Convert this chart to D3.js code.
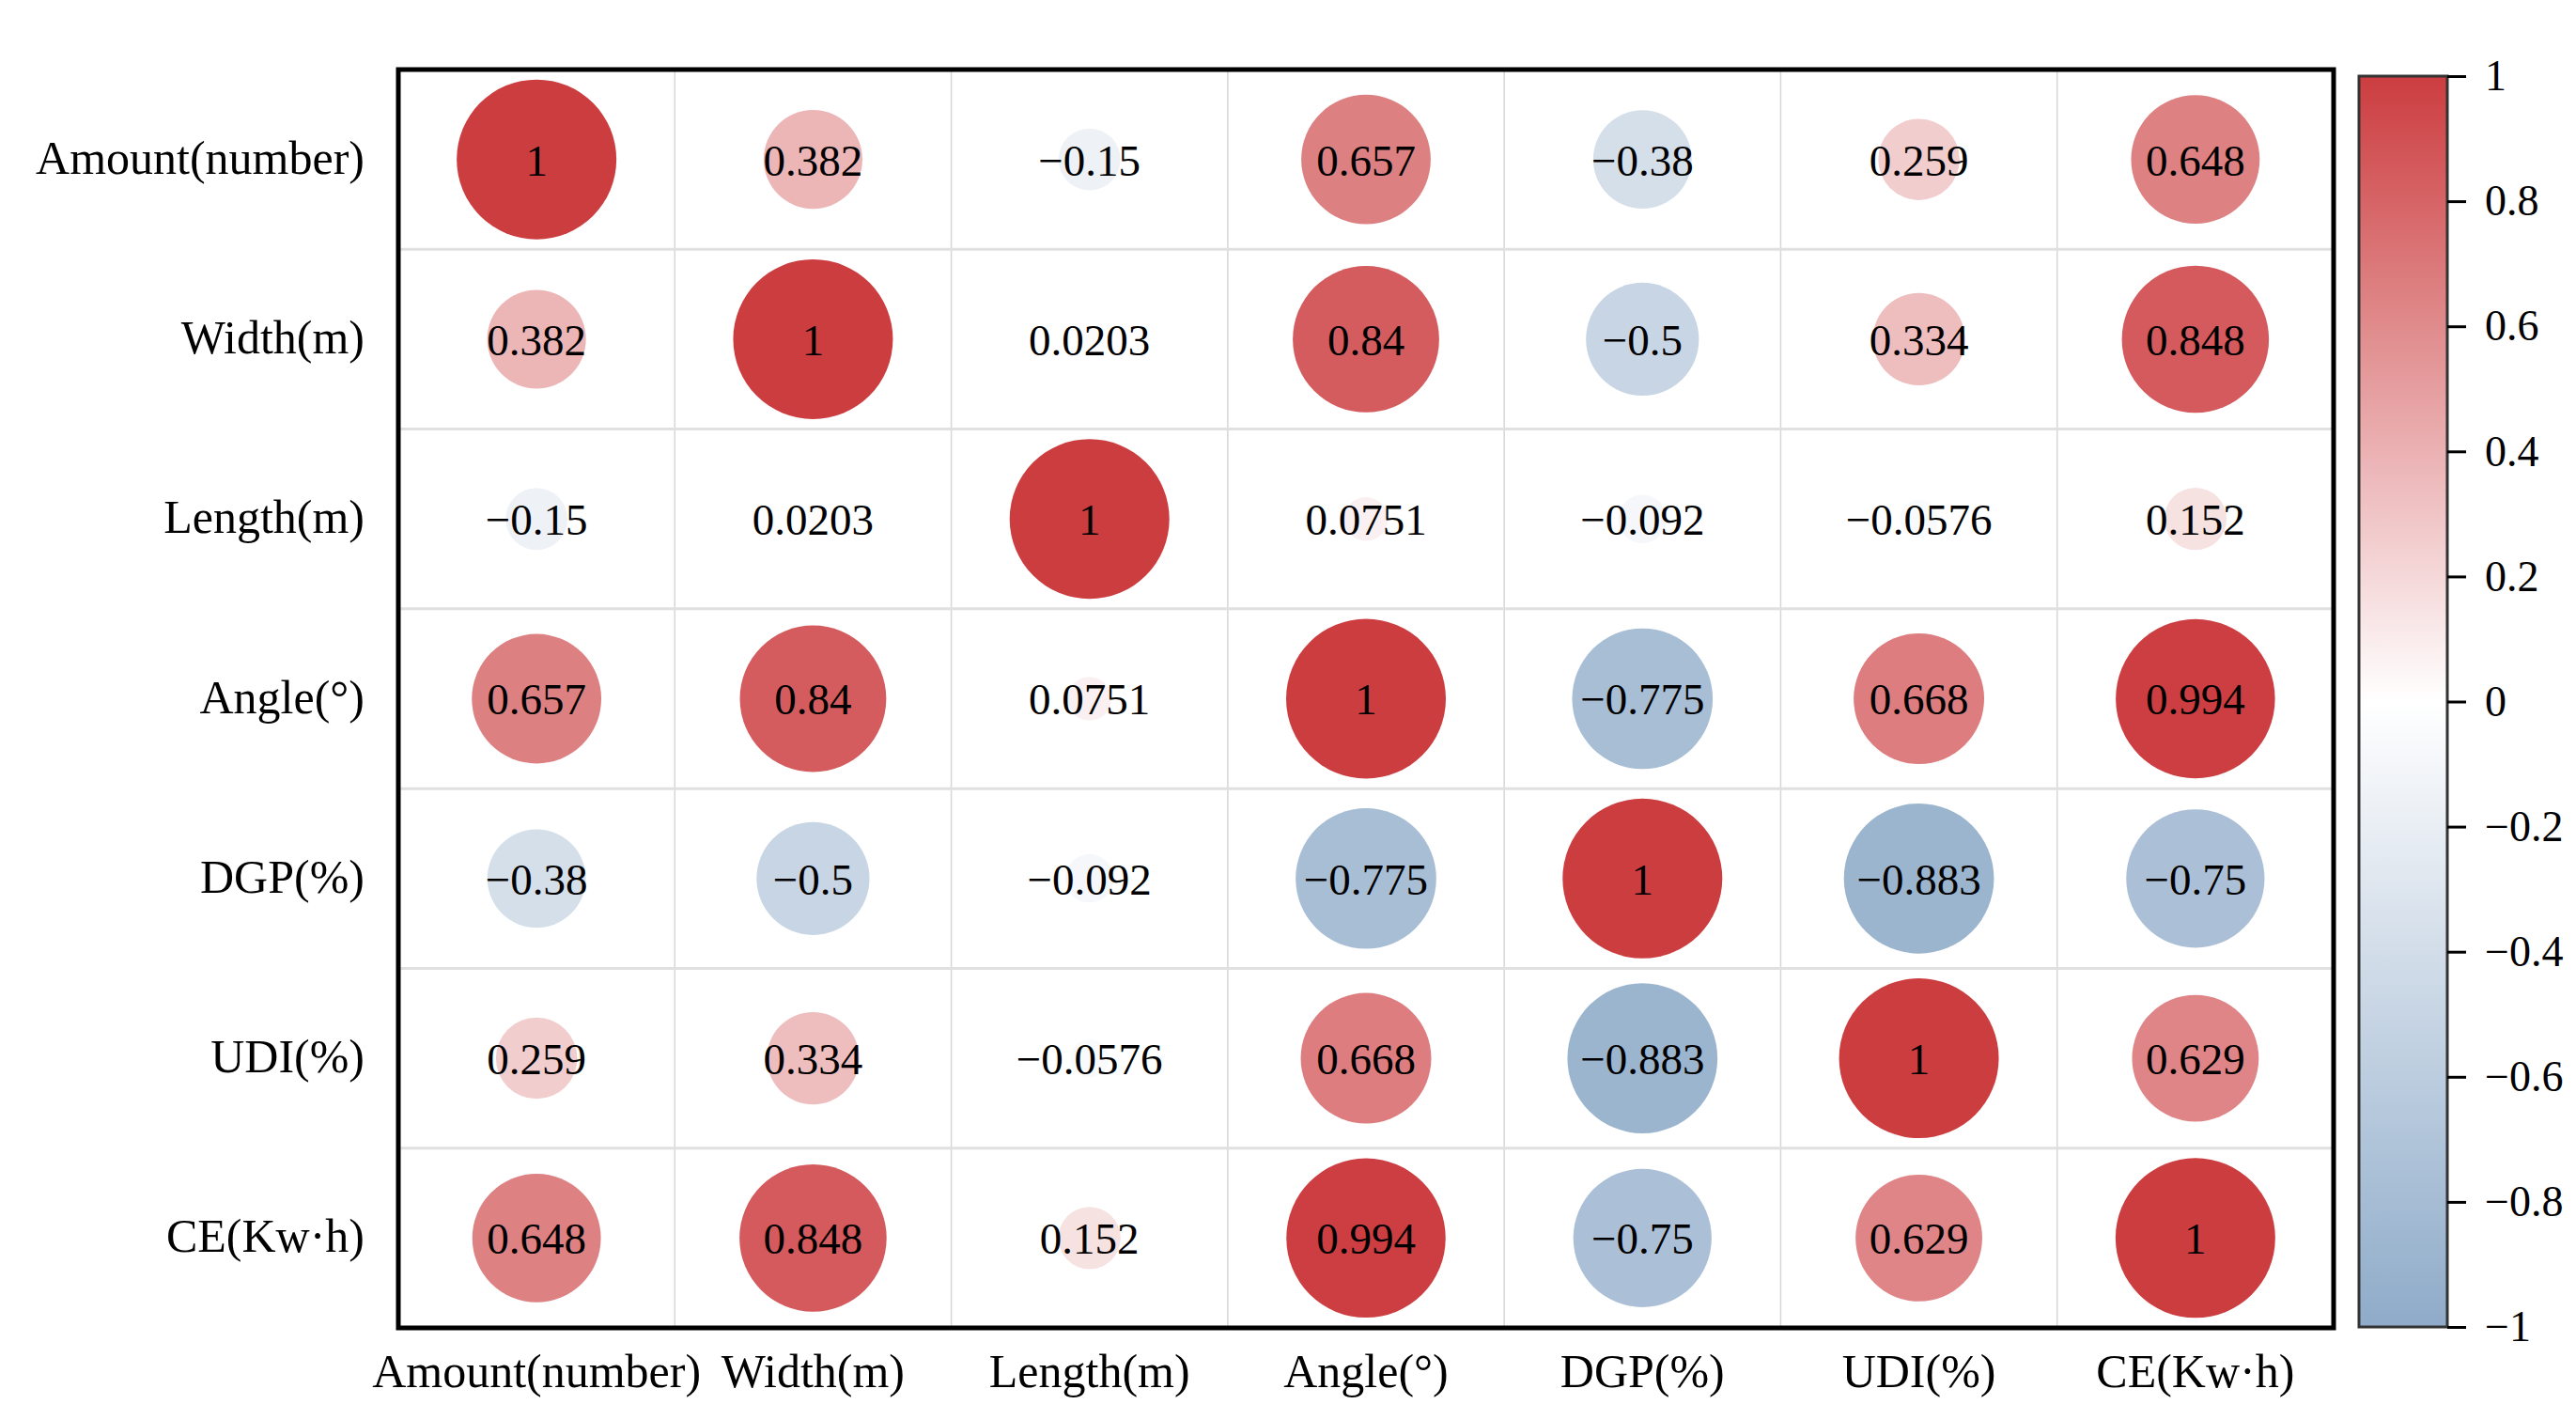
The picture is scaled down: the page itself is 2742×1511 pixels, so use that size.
<!DOCTYPE html>
<html>
<head>
<meta charset="utf-8">
<script src="https://cdn.jsdelivr.net/npm/d3@7"></script>
<style>
body { margin: 0; background: #ffffff; }
text { font-family: "Liberation Serif", "DejaVu Serif", serif; fill: #000; }
</style>
</head>
<body>
<div id="chart-id"></div>
<script>
// variable names, same order on both axes
var labels = ["Amount(number)", "Width(m)", "Length(m)", "Angle(°)", "DGP(%)", "UDI(%)", "CE(Kw·h)"];

// correlation rows, one per variable
var amountRow = [1, 0.382, -0.15, 0.657, -0.38, 0.259, 0.648];
var widthRow  = [0.382, 1, 0.0203, 0.84, -0.5, 0.334, 0.848];
var lengthRow = [-0.15, 0.0203, 1, 0.0751, -0.092, -0.0576, 0.152];
var angleRow  = [0.657, 0.84, 0.0751, 1, -0.775, 0.668, 0.994];
var dgpRow    = [-0.38, -0.5, -0.092, -0.775, 1, -0.883, -0.75];
var udiRow    = [0.259, 0.334, -0.0576, 0.668, -0.883, 1, 0.629];
var ceRow     = [0.648, 0.848, 0.152, 0.994, -0.75, 0.629, 1];

var colorbarTicks = [-1, -0.8, -0.6, -0.4, -0.2, 0, 0.2, 0.4, 0.6, 0.8, 1];

var rows = [amountRow, widthRow, lengthRow, angleRow, dgpRow, udiRow, ceRow];

function makeChart(divId){
    var width = 2742,
        height = 1511;
    var plot = {left: 424, right: 2484, top: 74, bottom: 1413};

    // flatten the rows into cells
    var cells = [];
    rows.forEach(function (row, i){
        row.forEach(function (v, j){
            cells.push({row: labels[i], col: labels[j], value: v});
        });
    });

    var x = d3.scaleBand()
        .domain(labels)
        .range([plot.left, plot.right]);

    var y = d3.scaleBand()
        .domain(labels)
        .range([plot.top, plot.bottom]);

    // area of the dot goes with |r|
    var r = d3.scaleSqrt()
        .domain([0, 1])
        .range([0, 85]);

    var color = d3.scaleLinear()
        .domain([-1, 0, 1])
        .range(["#8fabc9", "#ffffff", "#cc3d40"]);

    function fmt(v){
        return String(v).replace("-", "\u2212");
    }

    var svg = d3.select(divId)
        .append("svg")
        .attr("width", width)
        .attr("height", height);

    // grid lines between the cells
    svg.selectAll(".vgrid")
        .data(labels.slice(1))
        .enter()
        .append("line")
        .attr("x1", function (d){ return x(d); })
        .attr("x2", function (d){ return x(d); })
        .attr("y1", plot.top)
        .attr("y2", plot.bottom)
        .attr("stroke", "#d6d6d6")
        .attr("stroke-width", 1.5);

    svg.selectAll(".hgrid")
        .data(labels.slice(1))
        .enter()
        .append("line")
        .attr("x1", plot.left)
        .attr("x2", plot.right)
        .attr("y1", function (d){ return y(d); })
        .attr("y2", function (d){ return y(d); })
        .attr("stroke", "#e0e0e0")
        .attr("stroke-width", 3);

    svg.selectAll(".dot")
        .data(cells)
        .enter()
        .append("circle")
        .attr("cx", function (d){ return x(d.col) + x.bandwidth() / 2; })
        .attr("cy", function (d){ return y(d.row) + y.bandwidth() / 2; })
        .attr("r", function (d){ return r(Math.abs(d.value)); })
        .attr("fill", function (d){ return color(d.value); });

    svg.selectAll(".val")
        .data(cells)
        .enter()
        .append("text")
        .attr("x", function (d){ return x(d.col) + x.bandwidth() / 2; })
        .attr("y", function (d){ return y(d.row) + y.bandwidth() / 2; })
        .attr("dy", "0.36em")
        .attr("text-anchor", "middle")
        .style("font-size", "47px")
        .text(function (d){ return fmt(d.value); });

    // frame round the matrix
    svg.append("rect")
        .attr("x", plot.left)
        .attr("y", plot.top)
        .attr("width", plot.right - plot.left)
        .attr("height", plot.bottom - plot.top)
        .attr("fill", "none")
        .attr("stroke", "#000")
        .attr("stroke-width", 5);

    // row labels on the left
    svg.selectAll(".rowlab")
        .data(labels)
        .enter()
        .append("text")
        .attr("x", plot.left - 36)
        .attr("y", function (d){ return y(d) + y.bandwidth() / 2; })
        .attr("dy", "0.3em")
        .attr("text-anchor", "end")
        .style("font-size", "50px")
        .text(function (d){ return d; });

    // column labels underneath
    svg.selectAll(".collab")
        .data(labels)
        .enter()
        .append("text")
        .attr("x", function (d){ return x(d) + x.bandwidth() / 2; })
        .attr("y", 1476)
        .attr("text-anchor", "middle")
        .style("font-size", "50px")
        .text(function (d){ return d; });

    // colorbar
    var cb = {left: 2511, right: 2605, top: 81, bottom: 1412};
    var cy = d3.scaleLinear()
        .domain([-1, 1])
        .range([cb.bottom, cb.top]);

    var grad = svg.append("defs")
        .append("linearGradient")
        .attr("id", "cbgrad")
        .attr("x1", 0).attr("x2", 0)
        .attr("y1", 1).attr("y2", 0);

    grad.selectAll("stop")
        .data(colorbarTicks)
        .enter()
        .append("stop")
        .attr("offset", function (d){ return (d + 1) / 2; })
        .attr("stop-color", function (d){ return color(d); });

    svg.append("rect")
        .attr("x", cb.left)
        .attr("y", cb.top)
        .attr("width", cb.right - cb.left)
        .attr("height", cb.bottom - cb.top)
        .attr("fill", "url(#cbgrad)")
        .attr("stroke", "#333")
        .attr("stroke-width", 3);

    var axis = svg.append("g")
        .attr("transform", "translate(" + cb.right + ",0)")
        .call(d3.axisRight(cy)
            .tickValues(colorbarTicks)
            .tickSize(20)
            .tickPadding(20)
            .tickFormat(function (d){
                return fmt(d3.format("")(+d.toFixed(1)));
            }));

    axis.select(".domain").remove();
    axis.selectAll(".tick line")
        .attr("stroke", "#000")
        .attr("stroke-width", 3);
    axis.selectAll(".tick text")
        .attr("fill", "#000")
        .style("font-size", "46px")
        .style("font-family", "\"Liberation Serif\", serif");
}

makeChart("#chart-id");
</script>
</body>
</html>
